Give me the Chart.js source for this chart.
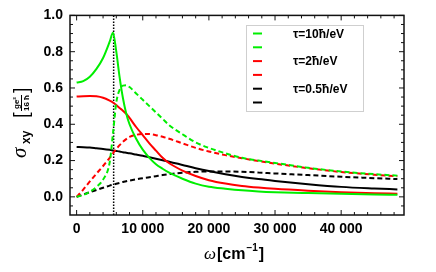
<!DOCTYPE html>
<html>
<head>
<meta charset="utf-8">
<script src="https://cdn.jsdelivr.net/npm/chart.js@4"></script>
<style>
  body { margin: 0; background: #fff; }
  canvas { display: block; }
</style>
</head>
<body>
<canvas id="myChart" width="436" height="272"></canvas>
<script>
// omega in cm^-1
const omega = [0, 1000, 2000, 3000, 4000, 5000, 5500, 6000, 6500, 7000, 7500, 8000, 9000, 10000, 11000, 12000, 13000, 14000, 16000, 18000, 20000, 22500, 25000, 27500, 30000, 35000, 40000, 45000, 48500];

// tau = 10 hbar/eV
const tau10Solid = [0.63, 0.638, 0.662, 0.705, 0.765, 0.855, 0.905, 0.8, 0.66, 0.545, 0.46, 0.4, 0.32, 0.26, 0.215, 0.18, 0.155, 0.133, 0.1, 0.073, 0.056, 0.045, 0.036, 0.03, 0.026, 0.021, 0.017, 0.013, 0.011];
const tau10Dashed = [0, 0.01, 0.028, 0.055, 0.095, 0.19, 0.35, 0.52, 0.59, 0.613, 0.615, 0.605, 0.57, 0.535, 0.5, 0.465, 0.43, 0.395, 0.345, 0.3, 0.27, 0.24, 0.215, 0.2, 0.187, 0.16, 0.14, 0.125, 0.117];

// tau = 2 hbar/eV
const tau2Solid = [0.553, 0.555, 0.556, 0.554, 0.546, 0.53, 0.52, 0.506, 0.49, 0.475, 0.458, 0.435, 0.385, 0.34, 0.295, 0.255, 0.215, 0.185, 0.145, 0.115, 0.092, 0.073, 0.06, 0.051, 0.044, 0.034, 0.026, 0.02, 0.017];
const tau2Dashed = [0, 0.04, 0.085, 0.128, 0.17, 0.215, 0.24, 0.263, 0.285, 0.303, 0.318, 0.33, 0.342, 0.347, 0.346, 0.34, 0.331, 0.32, 0.295, 0.27, 0.25, 0.23, 0.213, 0.197, 0.183, 0.158, 0.137, 0.122, 0.113];

// tau = 0.5 hbar/eV
const tau05Solid = [0.275, 0.274, 0.272, 0.268, 0.264, 0.259, 0.256, 0.253, 0.25, 0.246, 0.243, 0.24, 0.233, 0.226, 0.218, 0.21, 0.202, 0.194, 0.176, 0.158, 0.142, 0.125, 0.11, 0.098, 0.088, 0.07, 0.055, 0.046, 0.041];
const tau05Dashed = [0, 0.013, 0.026, 0.038, 0.05, 0.062, 0.067, 0.072, 0.077, 0.082, 0.086, 0.09, 0.097, 0.103, 0.108, 0.114, 0.12, 0.125, 0.133, 0.138, 0.14, 0.14, 0.138, 0.134, 0.129, 0.12, 0.111, 0.103, 0.098];

const resonance = 5600;

const xTicks = [0, 10000, 20000, 30000, 40000];
const xTickLabels = ['0', '10 000', '20 000', '30 000', '40 000'];
const yTicks = [0, 0.2, 0.4, 0.6, 0.8, 1.0];
const legendLabels = ['τ=10ħ/eV', '', 'τ=2ħ/eV', '', 'τ=0.5ħ/eV', ''];

const GREEN = '#00ee00';
const RED = '#ff0000';
const BLACK = '#000000';

const toPoints = (ys) => omega.map((x, i) => ({ x: x, y: ys[i] }));

const curve = (ys, color, dashed) => ({
  data: toPoints(ys),
  borderColor: color,
  borderWidth: 2,
  borderDash: dashed ? [5, 3] : [],
  pointRadius: 0,
  cubicInterpolationMode: 'monotone',
  fill: false,
});

const series = [
  curve(tau10Solid, GREEN, false),
  curve(tau10Dashed, GREEN, true),
  curve(tau2Solid, RED, false),
  curve(tau2Dashed, RED, true),
  curve(tau05Solid, BLACK, false),
  curve(tau05Dashed, BLACK, true),
];

const markerLine = {
  data: [{ x: resonance, y: -0.1 }, { x: resonance, y: 1.0 }],
  borderColor: BLACK,
  borderWidth: 1.5,
  borderDash: [1.5, 1.5],
  pointRadius: 0,
  tension: 0,
};

// frame with inward ticks, legend box and axis titles
const decorations = {
  id: 'decorations',
  afterDraw(chart) {
    const { ctx, chartArea: a, scales: { x, y } } = chart;
    ctx.save();

    // frame
    ctx.strokeStyle = '#111';
    ctx.lineWidth = 1.5;
    ctx.setLineDash([]);
    ctx.strokeRect(a.left, a.top, a.right - a.left, a.bottom - a.top);

    ctx.lineWidth = 1;
    const seg = (x1, y1, x2, y2) => {
      ctx.beginPath();
      ctx.moveTo(x1, y1);
      ctx.lineTo(x2, y2);
      ctx.stroke();
    };
    for (let i = 0; i <= 24; i++) {
      const px = x.getPixelForValue(i * 2000);
      const len = i % 5 === 0 ? 5 : 3;
      seg(px, a.bottom, px, a.bottom - len);
      seg(px, a.top, px, a.top + len);
    }
    for (let i = -1; i <= 20; i++) {
      const py = y.getPixelForValue(i * 0.05);
      const len = i % 4 === 0 ? 5 : 3;
      seg(a.left, py, a.left + len, py);
      seg(a.right, py, a.right - len, py);
    }

    // legend
    ctx.strokeStyle = '#cfcfcf';
    ctx.lineWidth = 1;
    ctx.fillStyle = '#fff';
    ctx.fillRect(246.5, 25.5, 117, 86);
    ctx.strokeRect(246.5, 25.5, 117, 86);
    ctx.font = 'bold 12px "Liberation Sans"';
    ctx.textBaseline = 'middle';
    ctx.textAlign = 'left';
    series.forEach((ds, i) => {
      const ly = 33.5 + i * 13.8;
      ctx.strokeStyle = ds.borderColor;
      ctx.lineWidth = 2;
      seg(253, ly, 262, ly);
      if (legendLabels[i]) {
        ctx.fillStyle = '#000';
        ctx.fillText(legendLabels[i], 293, ly + 1);
      }
    });

    // x axis title: ω[cm⁻¹]
    ctx.fillStyle = '#000';
    ctx.textBaseline = 'alphabetic';
    let cx = 204;
    const by = 259;
    ctx.font = 'italic 17px "Liberation Serif"';
    ctx.fillText('ω', cx, by);
    cx += ctx.measureText('ω').width + 1;
    ctx.font = 'bold 16px "Liberation Sans"';
    ctx.fillText('[cm', cx, by);
    cx += ctx.measureText('[cm').width;
    ctx.font = 'bold 10px "Liberation Sans"';
    ctx.fillText('−1', cx + 1, by - 8);
    cx += ctx.measureText('−1').width + 2;
    ctx.font = 'bold 16px "Liberation Sans"';
    ctx.fillText(']', cx, by);

    // y axis title: σxy[ge²/16ħ]
    ctx.translate(0, 160);
    ctx.rotate(-Math.PI / 2);
    ctx.font = 'italic 21px "Liberation Serif"';
    ctx.fillText('σ', 2, 26);
    ctx.font = 'bold 12px "Liberation Sans"';
    ctx.fillText('xy', 16, 30);
    ctx.font = '20px "Liberation Sans"';
    ctx.fillText('[', 42, 28);
    ctx.font = 'bold 8px "Liberation Sans"';
    ctx.textAlign = 'center';
    ctx.fillText('ge²', 57, 19);
    ctx.fillText('16 ħ', 57, 29);
    ctx.strokeStyle = '#000';
    ctx.lineWidth = 1;
    seg(49, 21.5, 65, 21.5);
    ctx.textAlign = 'left';
    ctx.font = '20px "Liberation Sans"';
    ctx.fillText(']', 67, 28);

    ctx.restore();
  }
};

Chart.defaults.font.family = '"Liberation Sans", Arial, sans-serif';
Chart.defaults.font.weight = 'bold';
Chart.defaults.font.size = 14;
Chart.defaults.color = '#000';

const ctx = document.getElementById('myChart');

const sigmaChart = new Chart(ctx, {
  type: 'line',
  data: { datasets: [...series, markerLine] },
  options: {
    responsive: false,
    animation: false,
    layout: { padding: { top: 10, right: 32, left: 0, bottom: 0 } },
    plugins: {
      legend: { display: false },
      tooltip: { enabled: false },
    },
    scales: {
      x: {
        type: 'linear',
        min: -1000,
        max: 49500,
        grid: { display: false, drawTicks: false },
        border: { display: false },
        afterBuildTicks: (s) => { s.ticks = xTicks.map(v => ({ value: v })); },
        afterFit: (s) => { s.height = 57; },
        ticks: {
          padding: 6,
          maxRotation: 0,
          callback: (v) => xTickLabels[xTicks.indexOf(v)],
        },
      },
      y: {
        type: 'linear',
        min: -0.1,
        max: 1.0,
        grid: { display: false, drawTicks: false },
        border: { display: false },
        afterBuildTicks: (s) => { s.ticks = yTicks.map(v => ({ value: v })); },
        afterFit: (s) => { s.width = 70; },
        ticks: {
          padding: 7,
          callback: (v) => v.toFixed(1),
        },
      },
    },
  },
  plugins: [decorations],
});
</script>
</body>
</html>
